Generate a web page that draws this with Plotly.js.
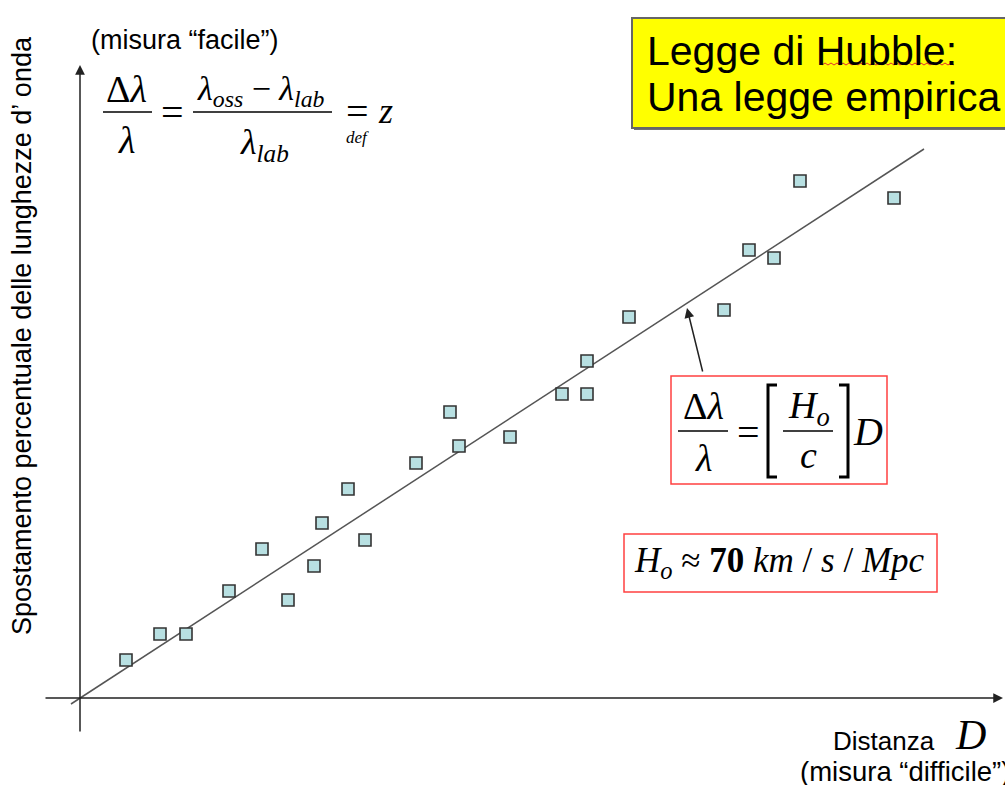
<!DOCTYPE html>
<html>
<head>
<meta charset="utf-8">
<script src="https://cdn.plot.ly/plotly-3.0.1.min.js"></script>
<style>html,body{margin:0;padding:0;background:#fff;}#chart{width:1005px;height:785px;}</style>
</head>
<body>
<div id="chart"></div>
<script>
// Data (arbitrary units)
const distanza = [4.6, 8.0, 10.6, 14.9, 18.2, 20.8, 23.4, 24.2, 26.8, 28.5, 33.6, 37.0, 37.9, 43.0, 48.2, 50.7, 50.7, 54.9, 64.4, 66.9, 69.4, 72.0, 81.4];
const spostamento = [3.8, 6.4, 6.4, 10.7, 14.9, 9.8, 13.2, 17.5, 20.9, 15.8, 23.5, 28.6, 25.2, 26.1, 30.4, 30.4, 33.7, 38.1, 38.8, 44.8, 44.0, 51.7, 50.0];
const fitX = [-0.9, 84.4];
const fitY = [-0.6, 54.9];

// pixel -> paper helpers (margins are zero)
const W = 1005, H = 785;
const X = px => px / W;
const Y = py => 1 - py / H;

const serif = "Liberation Serif";
const sans = "Liberation Sans";

function txt(text, px, py, size, family, opts) {
  return Object.assign({
    text: text, x: X(px), y: Y(py), xref: 'paper', yref: 'paper',
    showarrow: false, xanchor: 'center', yanchor: 'middle',
    font: {family: family, size: size, color: '#000'}
  }, opts || {});
}
function hline(x0, x1, py, w) {
  return {type: 'line', xref: 'paper', yref: 'paper', x0: X(x0), x1: X(x1), y0: Y(py), y1: Y(py),
          line: {color: '#000', width: w || 1.5}, layer: 'above'};
}
function bracket(xOuter, xInner, top, bottom) {
  return {type: 'path', xref: 'paper', yref: 'paper',
    path: `M ${X(xInner)} ${Y(top)} L ${X(xOuter)} ${Y(top)} L ${X(xOuter)} ${Y(bottom)} L ${X(xInner)} ${Y(bottom)}`,
    line: {color: '#000', width: 3}, layer: 'above'};
}
function rectPx(x0, y0, x1, y1, fill, lc, lw) {
  return {type: 'rect', xref: 'paper', yref: 'paper', x0: X(x0), x1: X(x1), y0: Y(y1), y1: Y(y0),
          fillcolor: fill, line: {color: lc, width: lw}, layer: 'below'};
}

// wavy spell-check underline under "Hubble"
let wave = `M ${X(822)} ${Y(65)}`;
for (let i = 1; i <= 44; i++) { wave += ` L ${X(822 + i * 3)} ${Y(i % 2 ? 63 : 65)}`; }

const traces = [
  {x: fitX, y: fitY, mode: 'lines', line: {color: '#555', width: 1.5}, hoverinfo: 'skip'},
  {x: distanza, y: spostamento, mode: 'markers',
   marker: {symbol: 'square', size: 12, color: '#b8e0e2', line: {color: '#333', width: 1.6}}}
];

const layout = {
  width: W, height: H,
  margin: {l: 0, r: 0, t: 0, b: 0},
  paper_bgcolor: '#fff', plot_bgcolor: '#fff',
  showlegend: false,
  xaxis: {range: [-8.0, 92.5], visible: false, fixedrange: true},
  yaxis: {range: [-8.7, 69.8], visible: false, fixedrange: true},
  shapes: [
    // title box with shadow
    rectPx(634, 20, 1012, 130, '#707070', '#707070', 0),
    rectPx(632, 18, 1010, 128, '#ffff00', '#666', 2),
    {type: 'path', xref: 'paper', yref: 'paper', path: wave, line: {color: '#e03030', width: 1}, layer: 'above'},
    // red boxes
    rectPx(671, 376, 887, 484, 'rgba(0,0,0,0)', '#ff4040', 1.5),
    rectPx(624, 534, 937, 592, 'rgba(0,0,0,0)', '#ff4040', 1.5),
    // fraction bars, formula 1
    hline(103, 152, 112), hline(193, 332, 112),
    // formula 2
    hline(678, 728, 431), hline(783, 833, 431),
    bracket(768, 777, 385, 477), bracket(848, 839, 385, 477)
  ],
  annotations: [
    // axes with arrows
    {x: 92.3, y: 0, ax: -3.6, ay: 0, axref: 'x', ayref: 'y', xref: 'x', yref: 'y', text: '',
     showarrow: true, arrowhead: 2, arrowsize: 1.3, arrowwidth: 1.5, arrowcolor: '#222'},
    {x: 0, y: 63.3, ax: 0, ay: -3.5, axref: 'x', ayref: 'y', xref: 'x', yref: 'y', text: '',
     showarrow: true, arrowhead: 2, arrowsize: 1.3, arrowwidth: 1.5, arrowcolor: '#222'},
    // callout arrow
    {x: 60.7, y: 39.0, ax: 62.3, ay: 32.5, axref: 'x', ayref: 'y', xref: 'x', yref: 'y', text: '',
     showarrow: true, arrowhead: 2, arrowsize: 1.3, arrowwidth: 1.5, arrowcolor: '#222'},

    // axis titles
    txt('Spostamento percentuale delle lunghezze d\u2019 onda', 22, 336, 27, sans, {textangle: -90}),
    txt('(misura \u201cfacile\u201d)', 89, 40, 27, sans, {xanchor: 'left'}),
    txt('Distanza', 884, 741, 26, sans),
    txt('<i>D</i>', 970, 735, 42, serif),
    txt('(misura \u201cdifficile\u201d)', 798, 771, 27.5, sans, {xanchor: 'left'}),

    // title box text
    txt('Legge di Hubble:', 645, 51, 41, sans, {xanchor: 'left'}),
    txt('Una legge empirica', 645, 97, 41, sans, {xanchor: 'left'}),

    // formula 1
    txt('\u0394<i>\u03bb</i>', 127, 89, 38, serif),
    txt('<i>\u03bb</i>', 127, 140, 38, serif),
    txt('=', 172, 113, 40, serif),
    txt('<i>\u03bb<sub>oss</sub></i> \u2212 <i>\u03bb<sub>lab</sub></i>', 261, 91, 34, serif),
    txt('<i>\u03bb<sub>lab</sub></i>', 264, 145, 36, serif),
    txt('=', 357, 112, 40, serif),
    txt('<i>def</i>', 357, 138, 17, serif),
    txt('<i>z</i>', 385, 111, 36, serif),

    // formula 2
    txt('\u0394<i>\u03bb</i>', 703, 406, 38, serif),
    txt('<i>\u03bb</i>', 703, 458, 38, serif),
    txt('=', 748, 432, 40, serif),
    txt('<i>H<sub>o</sub></i>', 809, 408, 38, serif),
    txt('<i>c</i>', 808, 455, 38, serif),
    txt('<i>D</i>', 868, 431, 40, serif),

    // formula 3
    txt('<i>H<sub>o</sub></i> \u2248 <b>70</b> <i>km</i> / <i>s</i> / <i>Mpc</i>', 779, 562, 35, serif)
  ]
};

Plotly.newPlot('chart', traces, layout, {displayModeBar: false, staticPlot: true});
</script>
</body>
</html>
